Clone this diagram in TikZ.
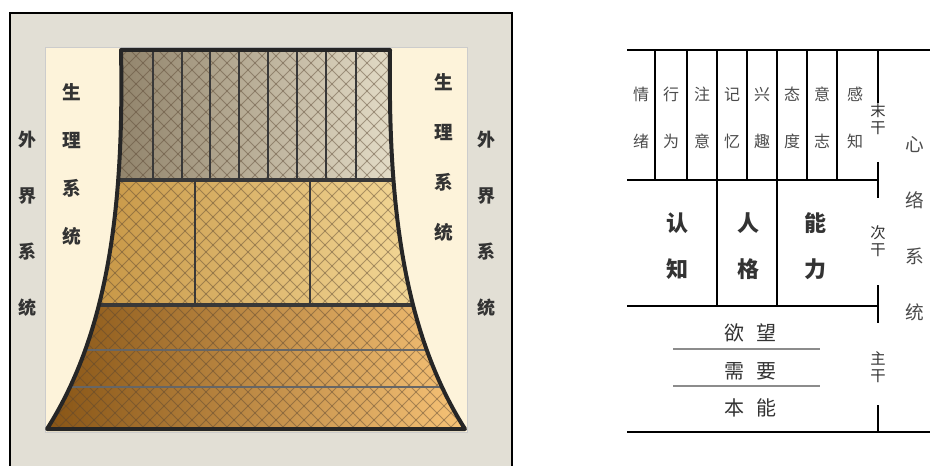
\documentclass[tikz,border=0pt]{standalone}
\usepackage{fontspec}
\newfontfamily\cjk{Noto Sans CJK SC}
\usetikzlibrary{positioning,calc}
\definecolor{framebg}{HTML}{E2DFD5}
\definecolor{cream}{HTML}{FDF3DA}
\definecolor{hatchc}{HTML}{5A4632}
\definecolor{topL}{HTML}{7A6B52}
\definecolor{topR}{HTML}{FAF4E0}
\definecolor{midL}{HTML}{C08C38}
\definecolor{midR}{HTML}{FAE2A4}
\definecolor{lowL}{HTML}{865314}
\definecolor{lowR}{HTML}{F8C478}
\newcommand\towerpath{(121,50) .. controls (124,200) and (110,330) .. (47,429) -- (465,429) .. controls (402,330) and (388,200) .. (390,50) -- cycle}

\begin{document}
\begin{tikzpicture}[x=0.75pt,y=-0.75pt,font=\cjk,
  band/.style={draw=black!78,line width=1.8pt},
  hatch/.style={draw=hatchc,opacity=0.45,line width=0.7pt},
  vlabel/.style={align=center,inner sep=0pt,text=black!80},
  outerlbl/.style={vlabel,font=\cjk\bfseries\fontsize{13.5}{42}\selectfont},
  bodylbl/.style={vlabel,font=\cjk\bfseries\fontsize{14}{36}\selectfont},
  smalllbl/.style={vlabel,text=black!70,font=\cjk\fontsize{12}{35}\selectfont},
  midlbl/.style={vlabel,font=\cjk\bfseries\fontsize{16.5}{34.5}\selectfont},
  baselbl/.style={vlabel,font=\cjk\fontsize{15}{18}\selectfont},
  trunklbl/.style={vlabel,font=\cjk\fontsize{11.5}{12.75}\selectfont},
  rule/.style={line width=1.9pt,line cap=rect},
  thinrule/.style={draw=black!45,line width=0.9pt}]
\useasboundingbox (0,0) rectangle (930,466);
\clip (0,0) rectangle (930,466);
\fill[white] (0,0) rectangle (930,466);

\filldraw[fill=framebg,draw=black,line width=2pt] (10,13) rectangle (512,490);
\filldraw[fill=cream,draw=black!20,line width=0.4pt] (45,47) rectangle (467,432);
\begin{scope}
  \clip \towerpath;
  \fill[left color=topL,right color=topR] (40,45) rectangle (470,180);
  \fill[left color=midL,right color=midR] (40,180) rectangle (470,305);
  \fill[left color=lowL,right color=lowR] (40,305) rectangle (470,435);
  \foreach \c in {-440,-426,...,480}
    \draw[hatch] (\c,40) -- ++(440,440);
  \foreach \c in {40,54,...,960}
    \draw[hatch] (\c,40) -- ++(-440,440);
  \foreach \x in {153,182,210,239,268,297,326,356}
    \draw[band] (\x,50) -- (\x,180);
  \draw[band,line width=2.4pt] (40,180) -- (470,180) (40,305) -- (470,305);
  \draw[band] (195,180) -- (195,305) (310,180) -- (310,305);
  \draw[band,draw=black!60,line width=1.6pt] (40,350) -- (470,350) (40,387) -- (470,387);
\end{scope}
\draw[draw=black!85,line width=3pt,line join=round] \towerpath;

\node[outerlbl] (outerL) at (27,224) {外\\界\\系\\统};
\node[outerlbl] (outerR) at (486,224) {外\\界\\系\\统};
\node[bodylbl] (bodyL) at (72,165) {生\\理\\系\\统};
\node[bodylbl,font=\cjk\bfseries\fontsize{14}{37.5}\selectfont] (bodyR) at (444,158) {生\\理\\系\\统};

\draw[rule] (628,50) -- (930,50);
\draw[rule] (628,180) -- (878,180);
\draw[rule] (628,306) -- (878,306);
\draw[rule] (628,432) -- (930,432);
\foreach \x in {655,687,717,747,777,807,837}
  \draw[rule,line width=1.6pt] (\x,50) -- (\x,180);
\draw[rule] (717,180) -- (717,306) (777,180) -- (777,306);
\draw[rule,line cap=butt] (878,50) -- (878,103) (878,162) -- (878,198)
  (878,285) -- (878,323) (878,405) -- (878,432);
\draw[thinrule] (673,349) -- (820,349) (673,386) -- (820,386);

\foreach \x/\a/\b [count=\i] in {641/情/绪,671/行/为,702/注/意,732/记/忆,762/兴/趣,792/态/度,822/意/志,855/感/知}
  \node[smalllbl] (top\i) at (\x,118) {\a\\\b};
\node[midlbl] (cog) at (677,246) {认\\知};
\node[midlbl] (pers) at (748,246) {人\\格};
\node[midlbl] (abil) at (815,246) {能\\力};
\node[baselbl] (desire) at (750,333) {欲\hspace{0.6em}望};
\node[baselbl] (need) at (750,371) {需\hspace{0.6em}要};
\node[baselbl] (instinct) at (750,408) {本\hspace{0.6em}能};
\node[trunklbl] (twig) at (878,119) {末\\干};
\node[trunklbl] (branch) at (878,241) {次\\干};
\node[trunklbl] (trunk) at (878,367) {主\\干};
\node[vlabel,font=\cjk\fontsize{14}{42}\selectfont,text=black!70] (mind) at (915,229) {心\\络\\系\\统};
\end{tikzpicture}
\end{document}
